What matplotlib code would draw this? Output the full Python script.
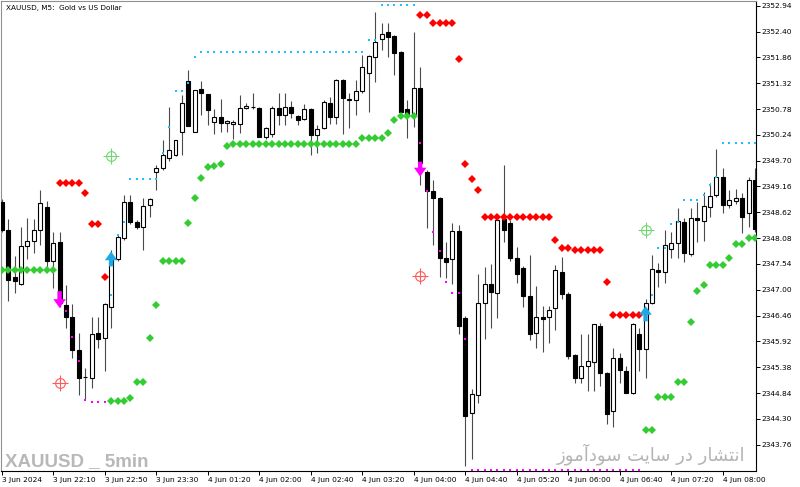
import numpy as np
import matplotlib
matplotlib.use("Agg")
import matplotlib.pyplot as plt

# XAUUSD M5 candles (index 0 = 3 Jun 21:30)
opens = [2348.83, 2348.26, 2347.26, 2347.13, 2347.91, 2348.03, 2348.26, 2348.73, 2347.60, 2347.99,
         2346.69, 2346.44, 2345.73, 2345.17, 2345.16, 2346.10, 2346.00, 2346.63, 2347.64, 2348.08,
         2348.83, 2348.41, 2348.31, 2348.77, 2349.46, 2349.54, 2349.75, 2349.82, 2350.30, 2351.37,
         2350.30, 2351.20, 2351.10, 2350.51, 2350.62, 2350.49, 2350.47, 2350.47, 2350.80, 2350.82,
         2350.80, 2350.19, 2350.26, 2350.80, 2350.65, 2350.82, 2350.63, 2350.57, 2350.78, 2350.24,
         2350.38, 2350.91, 2350.61, 2351.39, 2350.97, 2350.97, 2351.16, 2351.53, 2351.87, 2352.25,
         2352.40, 2352.31, 2351.98, 2350.78, 2350.65, 2351.22, 2349.46, 2349.06, 2348.92, 2347.66,
         2347.64, 2348.22, 2346.40, 2344.43, 2344.79, 2346.73, 2347.13, 2346.94, 2348.47, 2348.39,
         2347.66, 2347.45, 2346.88, 2346.10, 2346.44, 2346.42, 2346.61, 2347.37, 2346.92, 2345.63,
         2345.16, 2345.41, 2345.48, 2346.25, 2345.25, 2344.47, 2345.58, 2345.31, 2344.85, 2346.08,
         2345.77, 2346.73, 2347.41, 2347.37, 2347.85, 2347.97, 2348.41, 2347.74, 2348.50, 2348.43,
         2348.73, 2348.98, 2349.36, 2348.77, 2348.85, 2348.92, 2348.60, 2349.29]
highs = [2348.90, 2348.47, 2347.70, 2348.31, 2348.50, 2348.47, 2349.08, 2348.85, 2348.20, 2348.20,
         2347.11, 2346.71, 2346.10, 2345.37, 2346.44, 2346.44, 2346.73, 2347.83, 2348.14, 2348.98,
         2348.98, 2348.45, 2348.92, 2348.92, 2349.60, 2350.13, 2350.82, 2350.13, 2351.07, 2351.60,
         2351.18, 2351.37, 2351.10, 2350.78, 2350.99, 2350.55, 2350.55, 2351.07, 2350.91, 2351.12,
         2350.82, 2350.40, 2350.85, 2351.12, 2351.12, 2350.95, 2350.66, 2350.89, 2350.80, 2350.45,
         2350.97, 2351.03, 2351.41, 2351.41, 2351.12, 2351.39, 2351.91, 2351.91, 2352.81, 2352.58,
         2352.58, 2352.33, 2352.00, 2350.97, 2352.40, 2351.66, 2349.50, 2349.30, 2348.95, 2347.99,
         2348.39, 2348.35, 2346.45, 2344.93, 2347.34, 2347.47, 2347.53, 2348.50, 2349.60, 2348.45,
         2347.89, 2347.50, 2347.72, 2347.07, 2346.67, 2346.67, 2347.51, 2347.68, 2346.95, 2345.65,
         2346.08, 2346.08, 2346.29, 2346.31, 2345.28, 2345.79, 2345.67, 2345.40, 2346.31, 2346.21,
         2346.80, 2347.72, 2347.55, 2348.24, 2348.20, 2348.72, 2348.50, 2348.72, 2348.83, 2349.04,
         2349.23, 2349.94, 2349.55, 2349.08, 2349.10, 2349.02, 2349.35, 2349.55]
lows = [2348.20, 2346.77, 2346.94, 2347.10, 2347.64, 2347.76, 2347.93, 2347.40, 2347.03, 2346.63,
        2346.21, 2345.58, 2344.79, 2344.72, 2344.95, 2345.79, 2345.31, 2346.21, 2347.60, 2348.05,
        2348.38, 2348.28, 2347.83, 2348.52, 2349.08, 2349.50, 2349.70, 2349.80, 2349.82, 2350.42,
        2350.30, 2350.65, 2350.45, 2350.26, 2350.30, 2350.30, 2350.15, 2350.28, 2350.78, 2350.78,
        2350.19, 2350.15, 2350.20, 2350.45, 2350.45, 2350.60, 2350.45, 2350.55, 2349.82, 2349.86,
        2350.36, 2350.47, 2350.47, 2350.26, 2350.38, 2350.65, 2351.12, 2350.72, 2351.35, 2352.02,
        2351.87, 2351.49, 2350.72, 2350.17, 2350.40, 2349.19, 2348.29, 2347.93, 2347.26, 2347.24,
        2347.13, 2346.08, 2343.32, 2343.46, 2344.64, 2345.98, 2346.21, 2346.40, 2347.99, 2347.60,
        2347.15, 2346.63, 2345.95, 2345.79, 2345.69, 2345.88, 2346.15, 2346.80, 2345.55, 2345.06,
        2345.06, 2344.89, 2344.89, 2344.99, 2344.20, 2344.12, 2345.04, 2344.85, 2344.83, 2345.31,
        2345.16, 2346.70, 2347.05, 2347.15, 2347.66, 2347.66, 2347.58, 2347.70, 2347.99, 2348.03,
        2348.52, 2348.95, 2348.60, 2348.71, 2348.80, 2348.18, 2348.32, 2348.20]
closes = [2348.25, 2347.21, 2347.18, 2347.91, 2348.03, 2348.24, 2348.81, 2347.60, 2347.97, 2346.73,
          2346.42, 2345.73, 2345.16, 2345.17, 2346.08, 2345.98, 2346.71, 2347.62, 2348.10, 2348.83,
          2348.41, 2348.31, 2348.75, 2348.90, 2349.54, 2349.82, 2349.92, 2350.13, 2350.91, 2350.42,
          2351.18, 2351.12, 2350.76, 2350.62, 2350.49, 2350.53, 2350.51, 2350.80, 2350.84, 2350.82,
          2350.19, 2350.38, 2350.80, 2350.65, 2350.82, 2350.70, 2350.55, 2350.78, 2350.24, 2350.36,
          2350.93, 2350.61, 2351.39, 2351.01, 2350.97, 2351.16, 2351.66, 2351.89, 2352.19, 2352.35,
          2352.29, 2351.96, 2350.72, 2350.65, 2351.22, 2349.65, 2349.06, 2348.92, 2347.66, 2347.58,
          2348.22, 2346.25, 2344.37, 2344.81, 2346.73, 2347.13, 2346.96, 2348.45, 2348.26, 2347.66,
          2347.34, 2346.88, 2346.08, 2346.44, 2346.38, 2346.57, 2347.41, 2346.92, 2345.61, 2345.16,
          2345.41, 2345.52, 2346.29, 2345.25, 2344.41, 2345.58, 2345.33, 2344.85, 2346.29, 2345.77,
          2346.73, 2347.43, 2347.37, 2347.93, 2347.97, 2348.43, 2347.76, 2348.50, 2348.45, 2348.75,
          2348.96, 2349.36, 2348.77, 2348.87, 2348.92, 2348.52, 2349.29, 2348.27]

# indicator levels (bar index -> price)
green_idx = list(range(0, 9)) + list(range(17, 65)) + list(range(100, 118))
green_val = ([2347.41] * 9
             + [2344.68, 2344.68, 2344.68, 2344.73, 2345.08, 2345.08, 2346.00, 2346.69,
                2347.60, 2347.60, 2347.60, 2347.60, 2348.39, 2348.92, 2349.33, 2349.56,
                2349.58, 2349.62, 2350.00] + [2350.04] * 20
             + [2350.18] * 4 + [2350.28, 2350.56, 2350.63, 2350.63, 2350.63]
             + [2344.07, 2344.07, 2344.75, 2344.75, 2344.75, 2345.08, 2345.08, 2346.33,
                2346.97, 2347.09, 2347.51, 2347.51, 2347.51, 2347.67, 2347.95, 2347.95,
                2348.08, 2348.08])
red_idx = list(range(9, 17)) + list(range(65, 100))
red_val = ([2349.24] * 4 + [2349.03, 2348.37, 2348.37, 2347.26]
           + [2352.75, 2352.75] + [2352.58] * 4 + [2351.83, 2349.63, 2349.31, 2349.08]
           + [2348.52] * 11 + [2348.05, 2347.88, 2347.88] + [2347.84] * 5
           + [2347.17] + [2346.48] * 5)
cyan_idx = list(range(17, 65)) + list(range(101, 118))
cyan_val = ([2346.90, 2348.14, 2348.42] + [2349.31] * 5 + [2349.86, 2350.41, 2351.16, 2351.16,
            2351.32, 2351.86] + [2351.97] * 26 + [2352.22, 2352.22] + [2352.96] * 6
            + [2346.90, 2347.87, 2347.87, 2348.37, 2348.41, 2348.87, 2348.87, 2348.87,
               2348.98, 2349.19, 2349.36] + [2350.07] * 6)
magenta_idx = list(range(10, 17)) + list(range(65, 100))
magenta_val = ([2346.55, 2346.01, 2345.52, 2344.70, 2344.66, 2344.66, 2344.66]
               + [2350.08, 2349.07, 2348.21, 2347.81, 2347.16, 2346.93, 2346.93, 2345.97]
               + [2343.24] * 27)

# signals: (bar, tail price, tip price)
sell_arrows = [(9, 2346.97, 2346.62), (65, 2349.68, 2349.37)]
buy_arrows = [(17, 2347.49, 2347.80), (100, 2346.34, 2346.66)]
sell_targets = [(9, 2345.04), (65, 2347.28)]
buy_targets = [(17, 2349.79), (100, 2348.26)]

y_ticks = [2343.76 + 0.54 * k for k in range(18)]
x_tick_pos = list(range(0, 113, 8))
x_tick_labels = ["3 Jun 2024", "3 Jun 22:10", "3 Jun 22:50", "3 Jun 23:30", "4 Jun 01:20",
                 "4 Jun 02:00", "4 Jun 02:40", "4 Jun 03:20", "4 Jun 04:00", "4 Jun 04:40",
                 "4 Jun 05:20", "4 Jun 06:00", "4 Jun 06:40", "4 Jun 07:20", "4 Jun 08:00"]

watermark_fa = "انتشار در سایت سودآموز"

# contextual forms for the Persian letters used (isolated, final, initial, medial)
FA_FORMS = {
    "ا": ("\uFE8D", "\uFE8E", None, None),
    "آ": ("\uFE81", "\uFE82", None, None),
    "د": ("\uFEA9", "\uFEAA", None, None),
    "ر": ("\uFEAD", "\uFEAE", None, None),
    "ز": ("\uFEAF", "\uFEB0", None, None),
    "و": ("\uFEED", "\uFEEE", None, None),
    "ن": ("\uFEE5", "\uFEE6", "\uFEE7", "\uFEE8"),
    "ت": ("\uFE95", "\uFE96", "\uFE97", "\uFE98"),
    "ش": ("\uFEB5", "\uFEB6", "\uFEB7", "\uFEB8"),
    "س": ("\uFEB1", "\uFEB2", "\uFEB3", "\uFEB4"),
    "ی": ("\uFBFC", "\uFBFD", "\uFBFE", "\uFBFF"),
    "م": ("\uFEE1", "\uFEE2", "\uFEE3", "\uFEE4"),
}


def shape_fa(s):
    # matplotlib has no RTL shaping, so pick the joined forms and reverse
    out = []
    for i, ch in enumerate(s):
        f = FA_FORMS.get(ch)
        if f is None:
            out.append(ch)
            continue
        prev = s[i - 1] if i > 0 else ""
        nxt = s[i + 1] if i + 1 < len(s) else ""
        join_prev = prev in FA_FORMS and FA_FORMS[prev][2] is not None
        join_next = nxt in FA_FORMS and f[2] is not None
        if join_prev and join_next:
            out.append(f[3])
        elif join_prev:
            out.append(f[1])
        elif join_next:
            out.append(f[2])
        else:
            out.append(f[0])
    return "".join(reversed(out))


plt.rcParams["font.family"] = "DejaVu Sans"

fig = plt.figure(figsize=(8, 4.87), dpi=100)
ax = fig.add_axes([0.00125, 0.0329, 0.94375, 0.9651])

o = np.array(opens)
h = np.array(highs)
l = np.array(lows)
c = np.array(closes)
x = np.arange(len(o))
up = c >= o

ax.vlines(x, l, h, color="#4a4a4a", lw=0.8, zorder=2)
body_lo = np.minimum(o, c)
body_h = np.maximum(np.abs(c - o), 0.012)
ax.bar(x[up], body_h[up], bottom=body_lo[up], width=0.62, color="white",
       edgecolor="black", linewidth=0.8, zorder=3)
ax.bar(x[~up], body_h[~up], bottom=body_lo[~up], width=0.62, color="black",
       edgecolor="black", linewidth=0.8, zorder=3)

ax.plot(green_idx, green_val, "D", color="#33cc33", ms=3.6, mew=0, ls="none", zorder=4)
ax.plot(red_idx, red_val, "D", color="#ff0000", ms=3.6, mew=0, ls="none", zorder=4)
ax.plot(cyan_idx, cyan_val, "s", color="#1ebeff", ms=1.8, mew=0, ls="none", zorder=4)
ax.plot(magenta_idx, magenta_val, "s", color="#ff00ff", ms=1.8, mew=0, ls="none", zorder=4)

for i, tail, tip in sell_arrows:
    ax.annotate("", xy=(i, tip), xytext=(i, tail),
                arrowprops=dict(arrowstyle="simple,head_length=0.7,head_width=1.0,tail_width=0.35",
                                fc="#ff00ff", ec="none", shrinkA=0, shrinkB=0, mutation_scale=9),
                zorder=5)
for i, tail, tip in buy_arrows:
    ax.annotate("", xy=(i, tip), xytext=(i, tail),
                arrowprops=dict(arrowstyle="simple,head_length=0.7,head_width=1.0,tail_width=0.35",
                                fc="#1ea8e6", ec="none", shrinkA=0, shrinkB=0, mutation_scale=9),
                zorder=5)

for pts, col in [(sell_targets, "#ff5a5a"), (buy_targets, "#70d870")]:
    tx = [p[0] for p in pts]
    ty = [p[1] for p in pts]
    ax.plot(tx, ty, "o", mfc="none", mec=col, ms=7, mew=0.8, ls="none", zorder=5)
    ax.plot(tx, ty, "+", color=col, ms=11.5, mew=0.8, ls="none", zorder=5)

ax.set_xlim(-0.1, 117.15)
ax.set_ylim(2343.21, 2353.04)

ax.yaxis.tick_right()
ax.set_yticks(y_ticks)
ax.set_yticklabels([f"{v:.2f}" for v in y_ticks])
ax.set_xticks(x_tick_pos)
ax.set_xticklabels(x_tick_labels, ha="left")
ax.tick_params(axis="y", direction="out", length=3, width=0.7, pad=1, labelsize=5.4,
               colors="black")
ax.tick_params(axis="x", direction="out", length=3, width=0.7, pad=1.5, labelsize=5.4,
               colors="black")

for side in ["left", "top"]:
    ax.spines[side].set_color("#909090")
for side in ["right", "bottom"]:
    ax.spines[side].set_color("black")
for sp in ax.spines.values():
    sp.set_linewidth(0.8)

ax.text(0.006, 0.992, "XAUUSD, M5:  Gold vs US Dollar", transform=ax.transAxes,
        fontsize=5.2, va="top", ha="left", color="black")

fig.text(5 / 800, (487 - 466) / 487, "XAUUSD _ 5min", fontsize=13.5, fontweight="bold",
         family="Liberation Sans", color="#b8b8b8", ha="left", va="baseline")
fig.text(745 / 800, (487 - 460) / 487, shape_fa(watermark_fa), fontsize=13,
         family="DejaVu Sans", color="#b4b4b4", ha="right", va="baseline")

fig.savefig("out.png", dpi=100)
